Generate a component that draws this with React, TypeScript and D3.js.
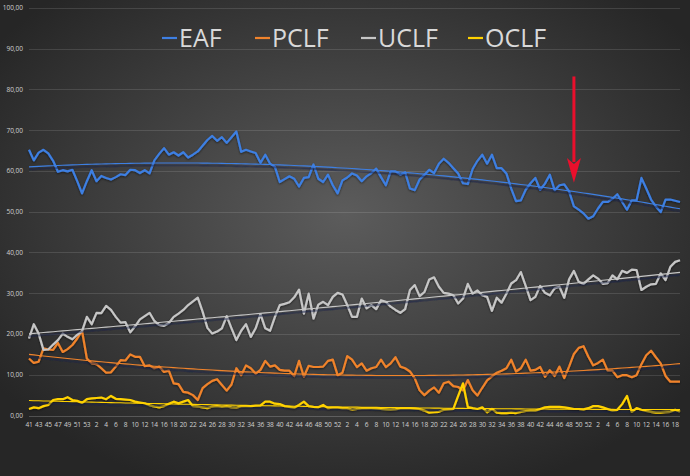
import React from "react";
import * as d3 from "d3";

// week numbers on the category axis (every other one is labelled)
const weeks = [
  41, 42, 43, 44, 45, 46, 47, 48, 49, 50, 51, 52, 53,
  1, 2, 3, 4, 5, 6, 7, 8, 9, 10, 11, 12, 13, 14, 15, 16, 17, 18, 19, 20, 21, 22, 23, 24, 25, 26,
  27, 28, 29, 30, 31, 32, 33, 34, 35, 36, 37, 38, 39, 40, 41, 42, 43, 44, 45, 46, 47, 48, 49, 50, 51, 52,
  1, 2, 3, 4, 5, 6, 7, 8, 9, 10, 11, 12, 13, 14, 15, 16, 17, 18, 19, 20, 21, 22, 23, 24, 25, 26,
  27, 28, 29, 30, 31, 32, 33, 34, 35, 36, 37, 38, 39, 40, 41, 42, 43, 44, 45, 46, 47, 48, 49, 50, 51, 52,
  1, 2, 3, 4, 5, 6, 7, 8, 9, 10, 11, 12, 13, 14, 15, 16, 17, 18, 19,
];

const eaf = [
  65.2, 62.6, 64.5, 65.2, 64.3, 62.5, 59.8, 60.2, 59.9, 60.3, 57.5, 54.5, 57.5, 60.2, 57.5, 58.8, 58.3, 57.9, 58.5, 59.2,
  59.0, 60.3, 60.2, 59.5, 60.2, 59.4, 62.6, 64.2, 65.6, 64.0, 64.6, 63.8, 64.6, 63.3, 64.0, 64.8, 66.2, 67.6, 68.6, 67.4,
  68.3, 66.9, 68.3, 69.7, 64.7, 65.2, 64.8, 64.4, 62.0, 64.0, 61.8, 61.0, 57.3, 58.0, 58.7, 58.1, 56.2, 58.3, 58.5, 61.6,
  58.1, 57.3, 59.1, 56.5, 54.5, 57.7, 58.4, 59.4, 58.9, 57.5, 58.7, 59.5, 60.6, 58.5, 56.5, 59.9, 59.9, 59.1, 59.7, 55.7,
  55.3, 57.9, 59.1, 60.3, 59.5, 61.8, 63.0, 62.0, 60.7, 59.4, 57.0, 56.8, 60.5, 62.5, 64.0, 61.8, 64.0, 60.7, 60.7, 59.4,
  55.7, 52.6, 52.8, 55.4, 57.0, 58.3, 55.4, 56.9, 59.1, 55.3, 56.5, 56.7, 55.0, 51.3, 50.5, 49.6, 48.3, 48.9, 50.8, 52.4,
  52.4, 53.2, 54.3, 52.4, 50.5, 52.8, 52.8, 58.3, 55.7, 53.0, 51.3, 49.9, 53.0, 53.0, 52.7, 52.4,
];

const pclf = [
  14.0, 12.9, 13.2, 16.5, 16.2, 16.1, 17.8, 15.6, 16.3, 17.3, 18.9, 20.8, 14.0, 12.8, 12.6, 11.6, 10.5, 10.6, 12.0, 13.6,
  13.5, 15.0, 14.4, 14.4, 12.1, 12.3, 11.6, 12.0, 10.7, 11.0, 7.9, 7.7, 5.8, 5.6, 5.0, 3.8, 6.7, 7.7, 8.5, 8.9,
  7.5, 6.1, 7.6, 11.6, 9.9, 12.3, 11.6, 10.3, 11.2, 13.4, 12.0, 12.3, 11.2, 11.0, 11.0, 9.7, 13.4, 9.5, 12.2, 11.9,
  11.9, 12.0, 13.4, 13.7, 9.9, 10.5, 14.6, 13.7, 11.9, 12.8, 11.0, 11.6, 11.9, 13.7, 11.9, 12.8, 14.3, 12.0, 11.6, 10.8,
  9.1, 6.2, 5.0, 6.1, 6.9, 5.6, 7.9, 8.3, 7.2, 7.0, 6.2, 8.7, 6.2, 4.9, 6.8, 8.6, 9.6, 10.5, 11.0, 11.6,
  13.7, 10.8, 11.6, 13.7, 11.0, 11.2, 11.9, 9.5, 11.1, 9.7, 12.0, 9.2, 12.0, 15.1, 16.6, 17.0, 14.4, 12.3, 12.9, 13.7,
  11.0, 11.0, 9.4, 9.9, 9.9, 9.4, 9.9, 12.6, 14.8, 15.9, 14.3, 12.8, 9.7, 8.3, 8.3, 8.3,
];

const uclf = [
  18.9, 22.4, 20.1, 16.1, 16.2, 17.4, 18.5, 20.1, 19.3, 18.7, 19.8, 20.7, 24.2, 22.4, 25.2, 25.1, 26.9, 25.9, 24.2, 22.8,
  22.9, 20.4, 21.9, 23.6, 24.4, 25.2, 23.2, 22.2, 22.0, 22.7, 24.2, 25.0, 25.9, 27.1, 28.0, 28.9, 25.5, 21.5, 20.1, 20.6,
  21.4, 24.4, 21.4, 18.5, 20.8, 22.4, 19.3, 21.4, 24.9, 21.4, 20.8, 24.2, 27.1, 27.4, 27.8, 29.0, 30.9, 25.0, 29.9, 23.8,
  27.2, 27.9, 27.1, 29.1, 30.1, 29.7, 27.1, 24.2, 24.2, 28.7, 26.3, 27.1, 26.1, 28.3, 27.9, 26.7, 25.9, 25.2, 26.1, 30.8,
  32.0, 29.3, 30.3, 33.4, 33.9, 31.6, 30.1, 29.9, 29.5, 27.5, 28.7, 32.3, 29.9, 30.7, 29.5, 29.1, 25.7, 28.9, 27.7, 29.9,
  32.4, 33.2, 35.2, 31.8, 28.3, 29.1, 31.8, 30.1, 29.5, 31.2, 31.6, 28.9, 33.4, 35.5, 32.8, 32.3, 33.4, 34.4, 33.6, 32.3,
  32.5, 34.4, 33.4, 35.5, 35.0, 35.8, 35.7, 30.8, 31.6, 32.2, 32.3, 34.9, 33.2, 36.5, 37.7, 38.1,
];

const oclf = [
  1.6, 2.0, 1.8, 2.3, 2.6, 3.8, 4.0, 4.0, 4.5, 3.8, 3.6, 3.1, 4.0, 4.2, 4.3, 4.4, 4.0, 4.8, 4.1, 4.0,
  3.9, 3.8, 3.4, 3.2, 3.0, 2.5, 2.2, 2.0, 2.3, 2.9, 3.4, 3.0, 3.4, 3.8, 2.3, 2.2, 2.0, 1.8, 2.2, 2.3,
  2.1, 2.3, 2.0, 1.9, 2.3, 2.3, 2.3, 2.4, 2.5, 3.4, 3.4, 2.9, 2.8, 2.3, 2.1, 1.9, 2.6, 3.4, 2.3, 2.1,
  2.0, 2.6, 1.8, 1.9, 1.9, 1.8, 1.8, 1.4, 1.6, 1.8, 1.8, 1.8, 1.7, 1.6, 1.5, 1.4, 1.5, 1.8, 1.8, 1.8,
  1.7, 1.6, 1.2, 0.7, 0.8, 0.9, 1.4, 1.5, 1.6, 4.8, 7.9, 2.1, 1.8, 1.6, 2.0, 0.8, 1.6, 0.7, 0.6, 0.6,
  0.7, 0.6, 0.9, 1.1, 1.2, 1.2, 1.6, 2.0, 2.1, 2.1, 2.1, 2.0, 1.8, 1.6, 1.6, 1.5, 1.8, 2.3, 2.3, 2.0,
  1.6, 1.2, 1.4, 2.8, 4.8, 0.9, 1.8, 1.4, 1.1, 0.9, 0.7, 0.7, 0.8, 0.9, 1.4, 0.9,
];

const seriesNames = ["EAF", "PCLF", "UCLF", "OCLF"];
const seriesValues = [eaf, pclf, uclf, oclf];
const seriesColors = ["#3e7fe2", "#f0832c", "#c6c6c6", "#ffd200"];
const yTicks = [0, 10, 20, 30, 40, 50, 60, 70, 80, 90, 100];
const arrowWeekIndex = 113;

// 2nd order polynomial trendline (least squares), like Excel's
function quadFit(values: number[]) {
  let n = 0, sx = 0, sx2 = 0, sx3 = 0, sx4 = 0, sy = 0, sxy = 0, sx2y = 0;
  values.forEach((y, i) => {
    const x = i / 100;
    n += 1; sx += x; sx2 += x * x; sx3 += x ** 3; sx4 += x ** 4;
    sy += y; sxy += x * y; sx2y += x * x * y;
  });
  const m = [
    [n, sx, sx2, sy],
    [sx, sx2, sx3, sxy],
    [sx2, sx3, sx4, sx2y],
  ];
  for (let c = 0; c < 3; c++) {
    for (let r = c + 1; r < 3; r++) {
      const f = m[r][c] / m[c][c];
      for (let k = c; k < 4; k++) m[r][k] -= f * m[c][k];
    }
  }
  const coef = [0, 0, 0];
  for (let r = 2; r >= 0; r--) {
    let s = m[r][3];
    for (let k = r + 1; k < 3; k++) s -= m[r][k] * coef[k];
    coef[r] = s / m[r][r];
  }
  return values.map((_, i) => coef[0] + coef[1] * (i / 100) + coef[2] * (i / 100) ** 2);
}

export default function App() {
  const svgRef = React.useRef<SVGSVGElement>(null);

  React.useEffect(() => {
    const width = 690;
    const height = 476;
    const svg = d3.select(svgRef.current);
    svg.selectAll("*").remove();

    // background + shadows
    const defs = svg.append("defs");
    const grad = defs
      .append("radialGradient")
      .attr("id", "bg")
      .attr("cx", "50%")
      .attr("cy", "45%")
      .attr("r", "62%");
    grad.append("stop").attr("offset", "0%").attr("stop-color", "#5c5c5c");
    grad.append("stop").attr("offset", "100%").attr("stop-color", "#262626");

    const shadow = defs.append("filter").attr("id", "shadow").attr("x", "-5%").attr("y", "-20%").attr("width", "110%").attr("height", "140%");
    shadow
      .append("feDropShadow")
      .attr("dx", 0)
      .attr("dy", 1)
      .attr("stdDeviation", 1)
      .attr("flood-color", "#000")
      .attr("flood-opacity", 0.55);

    const trendShadow = defs.append("filter").attr("id", "trendShadow").attr("x", "-5%").attr("y", "-20%").attr("width", "110%").attr("height", "160%");
    trendShadow
      .append("feDropShadow")
      .attr("dx", 0)
      .attr("dy", 2.5)
      .attr("stdDeviation", 0.4)
      .attr("flood-color", "#14224a")
      .attr("flood-opacity", 0.85);

    svg.append("rect").attr("width", width).attr("height", height).attr("fill", "url(#bg)");

    // scales
    const x = d3.scaleLinear().domain([0, weeks.length - 1]).range([29, 680]);
    const y = d3.scaleLinear().domain([0, 100]).range([415.5, 8]);

    // gridlines + y labels
    const grid = svg.append("g");
    grid
      .selectAll("line")
      .data(yTicks)
      .enter()
      .append("line")
      .attr("x1", 29)
      .attr("x2", 680)
      .attr("y1", (d) => Math.round(y(d)) + 0.5)
      .attr("y2", (d) => Math.round(y(d)) + 0.5)
      .attr("stroke", (d) => (d === 0 ? "rgba(255,255,255,0.2)" : "rgba(255,255,255,0.12)"))
      .attr("stroke-width", 1);

    grid
      .selectAll("text")
      .data(yTicks)
      .enter()
      .append("text")
      .attr("x", 23)
      .attr("y", (d) => y(d))
      .attr("dy", "0.35em")
      .attr("text-anchor", "end")
      .attr("fill", "#d0d0d0")
      .style("font-family", "'Open Sans', sans-serif")
      .style("font-size", "6.5px")
      .text((d) => d.toFixed(2).replace(".", ","));

    // x labels, every other week
    svg
      .append("g")
      .selectAll("text")
      .data(weeks.map((w, i) => ({ w, i })).filter((d) => d.i % 2 === 0))
      .enter()
      .append("text")
      .attr("x", (d) => x(d.i))
      .attr("y", 426.5)
      .attr("text-anchor", "middle")
      .attr("fill", "#d0d0d0")
      .style("font-family", "'Open Sans', sans-serif")
      .style("font-size", "6.6px")
      .style("letter-spacing", "-0.2px")
      .text((d) => d.w);

    // series lines
    const line = d3
      .line<number>()
      .x((_, i) => x(i))
      .y((d) => y(d));

    const lines = svg.append("g").attr("filter", "url(#shadow)");
    seriesValues.forEach((vals, k) => {
      lines
        .append("path")
        .datum(vals)
        .attr("d", line)
        .attr("fill", "none")
        .attr("stroke", seriesColors[k])
        .attr("stroke-width", 2.2)
        .attr("stroke-linejoin", "round");
    });

    // polynomial trendlines
    const trends = svg.append("g").attr("filter", "url(#trendShadow)");
    seriesValues.forEach((vals, k) => {
      trends
        .append("path")
        .datum(quadFit(vals))
        .attr("d", line)
        .attr("fill", "none")
        .attr("stroke", seriesColors[k])
        .attr("stroke-width", 1.1);
    });

    // legend
    const legendX = [162, 255, 361, 468];
    const legend = svg.append("g");
    seriesNames.forEach((name, k) => {
      legend
        .append("line")
        .attr("x1", legendX[k])
        .attr("x2", legendX[k] + 15)
        .attr("y1", 38)
        .attr("y2", 38)
        .attr("stroke", seriesColors[k])
        .attr("stroke-width", 2.2);
      legend
        .append("text")
        .attr("x", legendX[k] + 17)
        .attr("y", 46.5)
        .attr("fill", "#d9d9d9")
        .style("font-family", "'Open Sans', sans-serif")
        .style("font-size", "25px")
        .text(name);
    });

    // red arrow annotation
    const ax = x(arrowWeekIndex);
    const top = y(83.2);
    const tip = y(57.1);
    const headTop = y(63.2);
    const arrow = svg.append("g").attr("fill", "#ea0f2c");
    arrow
      .append("rect")
      .attr("x", ax - 1.5)
      .attr("y", top)
      .attr("width", 3)
      .attr("height", headTop - top + 4);
    arrow
      .append("path")
      .attr("d", `M${ax - 7},${headTop} L${ax},${headTop + 6} L${ax + 7},${headTop} L${ax},${tip} Z`);
  }, []);

  return <svg ref={svgRef} width={690} height={476} style={{ position: "absolute", left: 0, top: 0 }} />;
}
